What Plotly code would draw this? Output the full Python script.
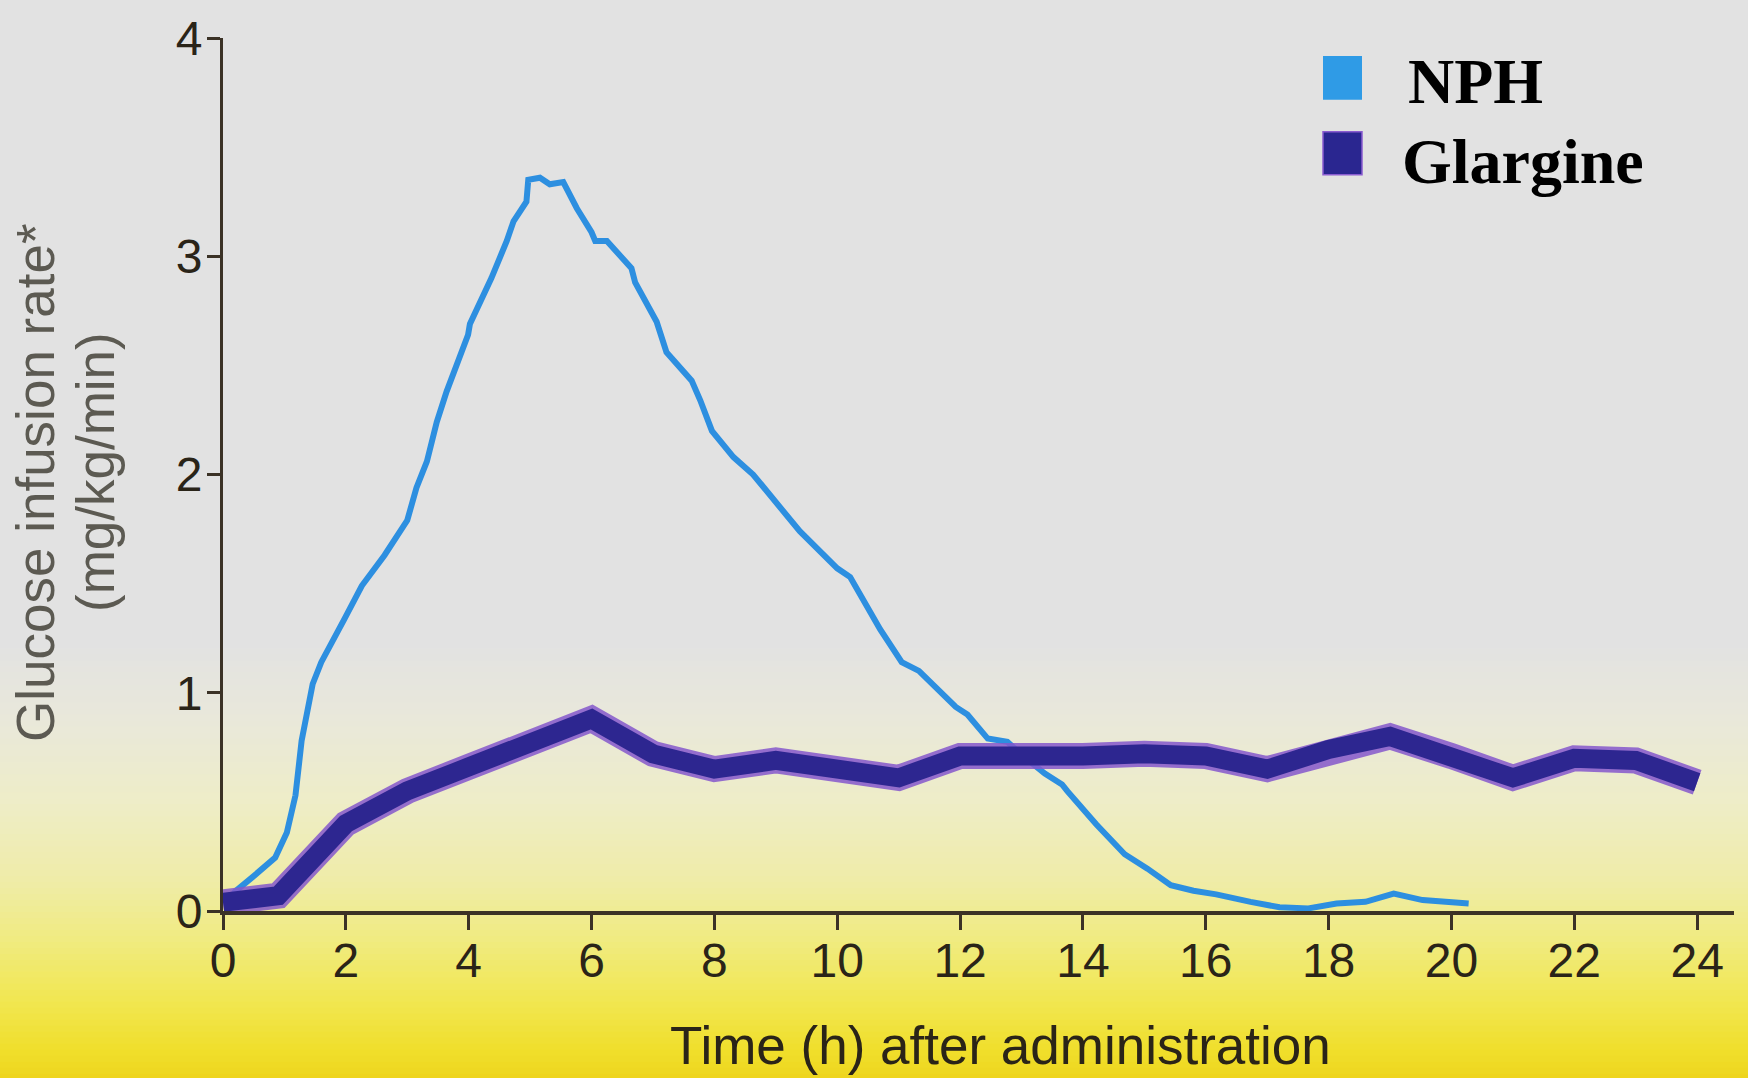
import plotly.graph_objects as go

# ---------------- data ----------------
nph_hours = [0.05, 0.2, 0.5, 0.85, 1.04, 1.18, 1.28, 1.46, 1.6, 1.84, 1.98, 2.26, 2.63,
             3.0, 3.15, 3.32, 3.48, 3.64, 3.86, 3.99, 4.02, 4.37, 4.62, 4.73, 4.94, 4.97,
             5.16, 5.32, 5.54, 5.76, 6.0, 6.06, 6.25, 6.65, 6.71, 7.06, 7.22, 7.63, 7.77,
             7.96, 8.31, 8.63, 9.39, 10.0, 10.21, 10.7, 11.05, 11.33, 11.93, 12.12, 12.45,
             12.77, 13.0, 13.38, 13.66, 13.75, 14.22, 14.68, 15.05, 15.43, 15.8, 16.17,
             16.73, 17.2, 17.67, 18.13, 18.6, 19.06, 19.53, 20.28]
nph_rate = [0.03, 0.09, 0.16, 0.245, 0.36, 0.53, 0.78, 1.04, 1.14, 1.26, 1.34, 1.49, 1.63,
            1.79, 1.94, 2.06, 2.24, 2.38, 2.55, 2.64, 2.69, 2.90, 3.07, 3.16, 3.25, 3.35,
            3.36, 3.33, 3.34, 3.22, 3.11, 3.07, 3.07, 2.945, 2.88, 2.70, 2.56, 2.43, 2.34,
            2.20, 2.08, 2.00, 1.74, 1.57, 1.53, 1.29, 1.14, 1.10, 0.935, 0.90, 0.79,
            0.775, 0.716, 0.63, 0.58, 0.548, 0.396, 0.26, 0.194, 0.118, 0.093, 0.076,
            0.042, 0.017, 0.012, 0.034, 0.042, 0.08, 0.05, 0.034]

glargine_hours = [0.0, 0.9, 2.0, 3.0, 4.0, 5.0, 6.0, 7.0, 8.0, 9.0, 10.0, 11.0, 12.0,
                  13.0, 14.0, 15.0, 16.0, 17.0, 18.0, 19.0, 20.0, 21.0, 22.0, 23.0, 24.0]
glargine_rate = [0.04, 0.07, 0.40, 0.55, 0.66, 0.77, 0.88, 0.72, 0.65, 0.69, 0.64, 0.61,
                 0.71, 0.70, 0.71, 0.72, 0.71, 0.65, 0.74, 0.80, 0.71, 0.61, 0.70, 0.69, 0.59]

x_ticks = [0, 2, 4, 6, 8, 10, 12, 14, 16, 18, 20, 22, 24]
y_ticks = [0, 1, 2, 3, 4]
series_names = ["NPH", "Glargine"]

# ---------------- layout geometry / styles ----------------
W, H = 1748, 1078
L, R, T, B = 223, 14, 36, 167
PW, PH = W - L - R, H - T - B

def px(xp):
    return (xp - L) / PW

def py(yp):
    return (H - B - yp) / PH

NPH_COLOR = "#2d8fe0"
GLAR_CORE = "#2d2690"
GLAR_EDGE = "#8558cc"
AXIS_COLOR = "#3b3226"
SANS = "Liberation Sans, Arial, sans-serif"
TEXT_DARK = "#2a2418"

fig = go.Figure()

fig.add_trace(go.Scatter(x=nph_hours, y=nph_rate, mode="lines", name=series_names[0],
                         line=dict(color=NPH_COLOR, width=6), showlegend=False))
fig.add_trace(go.Scatter(x=glargine_hours, y=glargine_rate, mode="lines", name=series_names[1],
                         line=dict(color=GLAR_EDGE, width=26), showlegend=False, opacity=0.85))
fig.add_trace(go.Scatter(x=glargine_hours, y=glargine_rate, mode="lines", name=series_names[1],
                         line=dict(color=GLAR_CORE, width=19), showlegend=False))

# ---------------- background gradient (grey -> yellow) ----------------
stops = [(0, (226, 226, 226)), (640, (226, 226, 226)), (720, (233, 232, 218)),
         (800, (238, 237, 200)), (880, (239, 236, 168)), (940, (240, 235, 128)),
         (1000, (241, 231, 82)), (1050, (240, 223, 44)), (1078, (238, 213, 30))]

def color_at(y):
    for (y0, c0), (y1, c1) in zip(stops[:-1], stops[1:]):
        if y0 <= y <= y1:
            t = (y - y0) / (y1 - y0) if y1 > y0 else 0
            return "rgb(%d,%d,%d)" % tuple(round(a + (b - a) * t) for a, b in zip(c0, c1))
    return "rgb(%d,%d,%d)" % stops[-1][1]

shapes = []
band = 6
y = 600
while y < H:
    shapes.append(dict(type="rect", xref="paper", yref="paper", x0=-0.2, x1=1.05,
                       y0=py(y + band + 1), y1=py(y), fillcolor=color_at(y + band / 2),
                       line=dict(width=0), layer="below"))
    y += band

# legend swatches
shapes.append(dict(type="rect", xref="paper", yref="paper", x0=px(1323), x1=px(1362),
                   y0=py(98), y1=py(54), fillcolor="#2f9be6", line=dict(width=0)))
shapes.append(dict(type="rect", xref="paper", yref="paper", x0=px(1323), x1=px(1362),
                   y0=py(173), y1=py(130), fillcolor="#2a2690",
                   line=dict(width=1.5, color="#8a5cd0")))

annotations = [
    dict(text=series_names[0], x=px(1406), y=py(80), xref="paper", yref="paper",
         xanchor="left", yanchor="middle", showarrow=False,
         font=dict(family="Liberation Serif, Times New Roman, serif", size=64,
                   color="#000000", weight="bold")),
    dict(text=series_names[1], x=px(1400), y=py(160), xref="paper", yref="paper",
         xanchor="left", yanchor="middle", showarrow=False,
         font=dict(family="Liberation Serif, Times New Roman, serif", size=64,
                   color="#000000", weight="bold")),
    dict(text="Glucose infusion rate*", x=px(36), y=py(482), xref="paper", yref="paper",
         xanchor="center", yanchor="middle", textangle=-90, showarrow=False,
         font=dict(family=SANS, size=53, color="#5c5a52")),
    dict(text="(mg/kg/min)", x=px(95), y=py(471), xref="paper", yref="paper",
         xanchor="center", yanchor="middle", textangle=-90, showarrow=False,
         font=dict(family=SANS, size=53, color="#5c5a52")),
    dict(text="Time (h) after administration", x=px(1000), y=py(1046), xref="paper",
         yref="paper", xanchor="center", yanchor="middle", showarrow=False,
         font=dict(family=SANS, size=53, color=TEXT_DARK)),
]

fig.update_layout(
    width=W, height=H,
    margin=dict(l=L, r=R, t=T, b=B, pad=0),
    paper_bgcolor="#e2e2e2",
    plot_bgcolor="rgba(0,0,0,0)",
    shapes=shapes,
    annotations=annotations,
    showlegend=False,
    xaxis=dict(range=[0, 24.6], tickmode="array", tickvals=x_ticks,
               ticktext=[str(v) for v in x_ticks], showgrid=False, zeroline=False,
               showline=True, linecolor=AXIS_COLOR, linewidth=4, ticks="outside",
               ticklen=15, tickwidth=3, tickcolor=AXIS_COLOR,
               tickfont=dict(family=SANS, size=48, color=TEXT_DARK),
               ticklabelstandoff=-11),
    yaxis=dict(range=[0, 4], tickmode="array", tickvals=y_ticks,
               ticktext=[str(v) for v in y_ticks], showgrid=False, zeroline=False,
               showline=True, linecolor=AXIS_COLOR, linewidth=3, ticks="outside",
               ticklen=13, tickwidth=3, tickcolor=AXIS_COLOR,
               tickfont=dict(family=SANS, size=48, color=TEXT_DARK),
               ticklabelstandoff=-5),
)

fig.write_html("out.html", config={"displayModeBar": False},
               post_script="document.body.style.margin='0px';"
                           "document.body.style.overflow='hidden';")
